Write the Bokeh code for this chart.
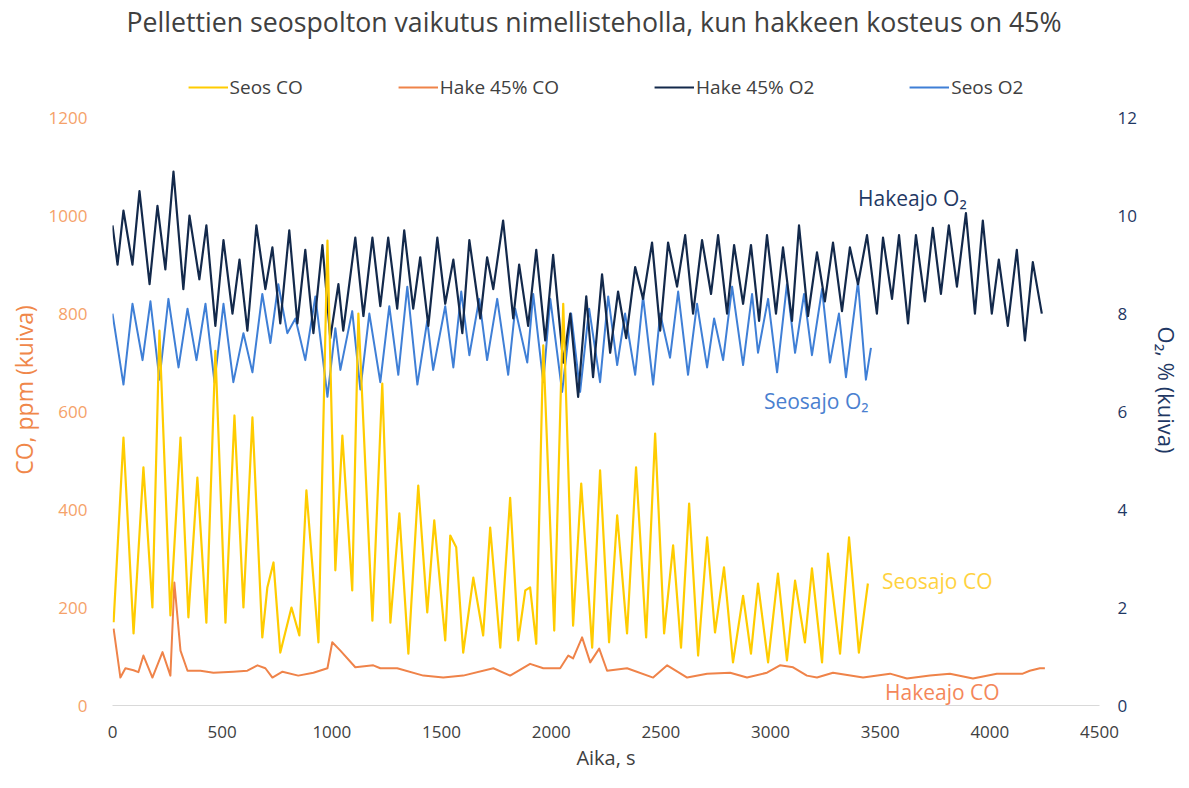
from bokeh.plotting import figure
from bokeh.models import Range1d, LinearAxis, FixedTicker, Legend, LegendItem, Label, Title
from bokeh.embed import file_html
from bokeh.resources import INLINE

FONT = "Open Sans"

# ---------------- data ----------------
hake_o2_t = [0, 23, 50, 91, 123, 169, 205, 241, 278, 323,
             351, 396, 428, 469, 506, 547, 579, 615, 656, 697,
             729, 765, 806, 843, 879, 916, 957, 993, 1030, 1052,
             1107, 1144, 1185, 1221, 1257, 1298, 1330, 1371, 1403, 1440,
             1481, 1517, 1554, 1595, 1627, 1677, 1708, 1736, 1781, 1827,
             1854, 1895, 1932, 1973, 2009, 2055, 2087, 2123, 2160, 2191,
             2232, 2269, 2305, 2342, 2383, 2419, 2460, 2497, 2533, 2574,
             2611, 2647, 2688, 2729, 2761, 2802, 2834, 2875, 2911, 2948,
             2984, 3025, 3057, 3098, 3130, 3171, 3212, 3248, 3285, 3326,
             3362, 3399, 3440, 3485, 3513, 3554, 3586, 3627, 3663, 3704,
             3740, 3777, 3813, 3850, 3891, 3932, 3968, 4009, 4041, 4082,
             4123, 4160, 4196, 4237]
hake_o2 = [9.8, 9.0, 10.1, 9.0, 10.5, 8.6, 10.2, 8.9, 10.9, 8.5,
           10.0, 8.7, 9.8, 7.75, 9.5, 8.0, 9.1, 7.65, 9.8, 8.5,
           9.35, 7.8, 9.7, 7.8, 9.3, 7.6, 9.4, 7.5, 8.6, 7.65,
           9.55, 7.95, 9.55, 8.15, 9.55, 8.1, 9.7, 8.1, 9.15, 7.75,
           9.55, 8.2, 9.1, 7.6, 9.5, 7.9, 9.15, 8.5, 9.9, 7.9,
           9.0, 7.75, 9.3, 7.45, 9.2, 7.0, 8.0, 6.3, 8.35, 6.7,
           8.8, 7.2, 8.45, 7.5, 8.95, 8.3, 9.45, 7.65, 9.45, 8.55,
           9.6, 8.0, 9.5, 8.4, 9.6, 8.0, 9.4, 8.2, 9.4, 7.85,
           9.6, 8.0, 9.35, 7.85, 9.8, 7.95, 9.25, 8.25, 9.45, 8.05,
           9.35, 8.6, 9.6, 8.0, 9.55, 8.3, 9.6, 7.8, 9.6, 8.25,
           9.75, 8.4, 9.8, 8.55, 10.05, 8.0, 9.9, 8.0, 9.1, 7.75,
           9.3, 7.45, 9.05, 8.0]

seos_o2_t = [0, 50, 91, 137, 173, 214, 255, 301, 342, 383,
             424, 465, 506, 551, 597, 638, 683, 720, 756, 797,
             834, 879, 925, 980, 1016, 1039, 1093, 1130, 1171, 1221,
             1262, 1303, 1344, 1390, 1435, 1462, 1517, 1554, 1590, 1627,
             1672, 1708, 1754, 1804, 1836, 1891, 1918, 1964, 1996, 2050,
             2091, 2132, 2173, 2223, 2260, 2301, 2337, 2383, 2419, 2465,
             2497, 2542, 2579, 2624, 2665, 2711, 2743, 2784, 2825, 2875,
             2916, 2943, 2989, 3030, 3075, 3112, 3153, 3189, 3235, 3271,
             3312, 3344, 3399, 3435, 3458]
seos_o2 = [8.0, 6.55, 8.2, 7.05, 8.25, 6.65, 8.3, 6.9, 8.1, 7.05,
           8.2, 6.6, 8.2, 6.6, 7.6, 6.8, 8.4, 7.4, 8.6, 7.6,
           7.9, 7.05, 8.35, 6.3, 7.7, 6.85, 8.05, 6.45, 8.0, 6.6,
           8.15, 6.75, 8.55, 6.55, 7.85, 6.85, 8.15, 6.9, 8.45, 7.15,
           8.3, 7.05, 8.3, 6.75, 8.1, 7.0, 8.4, 6.6, 8.3, 6.4,
           8.0, 6.4, 8.1, 6.6, 8.35, 6.95, 8.0, 6.75, 8.35, 6.55,
           8.0, 7.1, 8.45, 6.75, 8.2, 6.9, 7.9, 7.05, 8.55, 6.95,
           8.4, 7.2, 8.3, 6.8, 8.6, 7.2, 8.4, 7.15, 8.5, 7.0,
           8.0, 6.7, 8.65, 6.65, 7.3]

seos_co_t = [5, 50, 96, 141, 182, 214, 264, 310, 346, 387,
             428, 469, 515, 556, 597, 638, 683, 706, 734, 765,
             816, 852, 884, 939, 980, 1016, 1048, 1093, 1121, 1185,
             1230, 1267, 1308, 1349, 1394, 1435, 1467, 1517, 1540, 1567,
             1599, 1645, 1690, 1722, 1768, 1813, 1850, 1882, 1904, 1932,
             1964, 2014, 2055, 2100, 2137, 2187, 2223, 2264, 2301, 2346,
             2387, 2433, 2474, 2515, 2556, 2592, 2629, 2670, 2711, 2747,
             2788, 2829, 2875, 2911, 2943, 2989, 3034, 3075, 3112, 3157,
             3189, 3235, 3262, 3317, 3358, 3403, 3444]
seos_co = [170, 547, 147, 486, 200, 765, 184, 547, 180, 465,
           169, 724, 169, 592, 200, 588, 139, 241, 292, 108,
           200, 143, 439, 129, 949, 276, 551, 235, 800, 173,
           657, 169, 392, 106, 449, 190, 378, 133, 347, 323,
           108, 261, 143, 363, 118, 424, 133, 235, 241, 126,
           735, 153, 820, 163, 453, 118, 480, 129, 388, 147,
           486, 139, 555, 147, 327, 118, 412, 102, 343, 149,
           282, 88, 224, 106, 249, 88, 269, 92, 255, 129,
           280, 88, 310, 106, 343, 108, 249]

hake_co_t = [5, 36, 59, 96, 118, 141, 182, 228, 264, 282,
             310, 342, 401, 460, 551, 615, 661, 697, 729, 775,
             847, 916, 980, 1002, 1039, 1107, 1189, 1221, 1298, 1417,
             1508, 1599, 1736, 1813, 1904, 1964, 2041, 2078, 2100, 2141,
             2178, 2219, 2255, 2346, 2465, 2529, 2620, 2711, 2816, 2893,
             2984, 3043, 3103, 3166, 3212, 3285, 3422, 3545, 3622, 3727,
             3818, 3923, 4032, 4150, 4182, 4228, 4251]
hake_co = [157, 57, 76, 72, 68, 102, 57, 109, 61, 251,
           112, 71, 71, 67, 69, 71, 82, 76, 57, 69,
           61, 67, 76, 129, 112, 78, 82, 76, 76, 61,
           57, 61, 76, 61, 85, 76, 76, 102, 96, 139,
           88, 116, 71, 76, 57, 82, 57, 65, 67, 57,
           67, 82, 78, 61, 57, 67, 57, 65, 55, 61,
           65, 55, 65, 65, 71, 76, 76]

x_ticks = [0, 500, 1000, 1500, 2000, 2500, 3000, 3500, 4000, 4500]
co_ticks = [0, 200, 400, 600, 800, 1000, 1200]
o2_ticks = [0, 2, 4, 6, 8, 10, 12]

series_names = ["Seos CO", "Hake 45% CO", "Hake 45% O2", "Seos O2"]
title_text = "Pellettien seospolton vaikutus nimellisteholla, kun hakkeen kosteus on 45%"

# ---------------- colours ----------------
C_SEOS_CO = "#FFCC00"
C_HAKE_CO = "#EF8349"
C_HAKE_O2 = "#13294B"
C_SEOS_O2 = "#3F7FD6"
C_TEXT = "#404040"

# the frame extends above the 1200 / 12 tick to hold the legend row
CO_TOP = 1288
O2_TOP = CO_TOP / 100.0

p = figure(width=1185, height=786, title=None,
           x_range=Range1d(0, 4500), y_range=Range1d(0, CO_TOP),
           output_backend="svg", toolbar_location=None,
           min_border_left=112, min_border_right=86,
           min_border_top=74, min_border_bottom=81)
p.extra_y_ranges = {"o2": Range1d(0, O2_TOP)}
p.background_fill_color = "white"
p.border_fill_color = "white"
p.outline_line_color = None
p.xgrid.visible = False
p.ygrid.visible = False

# empty spacer row between the title and the legend, then the title itself
p.add_layout(Title(text="\u00a0", text_font=FONT, text_font_size="24.5px", standoff=0), "above")
p.add_layout(Title(text=title_text, align="left", offset=14,
                   text_font=FONT, text_font_size="26.7px", text_font_style="normal",
                   text_color=C_TEXT, standoff=0), "above")

# x axis
xa = p.xaxis[0]
xa.ticker = FixedTicker(ticks=x_ticks)
xa.major_tick_line_color = None
xa.minor_tick_line_color = None
xa.major_tick_out = 0
xa.major_tick_in = 0
xa.axis_line_color = "#d9d9d9"
xa.major_label_standoff = 20
xa.major_label_text_font = FONT
xa.major_label_text_font_size = "17px"
xa.major_label_text_color = C_TEXT
xa.axis_label = "Aika, s"
xa.axis_label_text_font = FONT
xa.axis_label_text_font_size = "20px"
xa.axis_label_text_font_style = "normal"
xa.axis_label_text_color = C_TEXT
xa.axis_label_standoff = 3

# left axis
ya = p.yaxis[0]
ya.ticker = FixedTicker(ticks=co_ticks)
ya.major_tick_line_color = None
ya.minor_tick_line_color = None
ya.major_tick_out = 0
ya.major_tick_in = 0
ya.axis_line_color = None
ya.major_label_standoff = 25
ya.major_label_text_font = FONT
ya.major_label_text_font_size = "17px"
ya.major_label_text_color = "#F5A26A"
ya.axis_label = "CO, ppm (kuiva)"
ya.axis_label_text_font = FONT
ya.axis_label_text_font_size = "23px"
ya.axis_label_text_font_style = "normal"
ya.axis_label_text_color = "#F0874A"
ya.axis_label_standoff = 6

# right axis
ra = LinearAxis(y_range_name="o2", ticker=FixedTicker(ticks=o2_ticks))
ra.major_tick_line_color = None
ra.minor_tick_line_color = None
ra.major_tick_out = 0
ra.major_tick_in = 0
ra.axis_line_color = None
ra.major_label_standoff = 18
ra.major_label_text_font = FONT
ra.major_label_text_font_size = "17px"
ra.major_label_text_color = "#1F3864"
ra.axis_label = "O\u2082, % (kuiva)"
ra.axis_label_text_font = FONT
ra.axis_label_text_font_size = "22px"
ra.axis_label_text_font_style = "normal"
ra.axis_label_text_color = "#1F3864"
ra.axis_label_standoff = 12
p.add_layout(ra, "right")

# lines
r_seos_o2 = p.line(seos_o2_t, seos_o2, y_range_name="o2", line_color=C_SEOS_O2,
                   line_width=2, line_join="round")
r_hake_o2 = p.line(hake_o2_t, hake_o2, y_range_name="o2", line_color=C_HAKE_O2,
                   line_width=2.2, line_join="round")
r_hake_co = p.line(hake_co_t, hake_co, line_color=C_HAKE_CO, line_width=2, line_join="round")
r_seos_co = p.line(seos_co_t, seos_co, line_color=C_SEOS_CO, line_width=2.2, line_join="round")

# tiny markers shown only in the legend (as in the original legend glyphs)
m_seos_co = p.scatter(x=[], y=[], marker="triangle", angle=3.14159, size=4, color="#C8A800")
m_hake_co = p.scatter(x=[], y=[], marker="circle", size=3, color=C_HAKE_CO)

legend = Legend(items=[
    LegendItem(label=series_names[0], renderers=[r_seos_co, m_seos_co]),
    LegendItem(label=series_names[1], renderers=[r_hake_co, m_hake_co]),
    LegendItem(label=series_names[2], renderers=[r_hake_o2]),
    LegendItem(label=series_names[3], renderers=[r_seos_o2]),
], orientation="horizontal", location="top_center", spacing=95,
    glyph_width=40, glyph_height=20, label_standoff=2,
    label_text_font=FONT, label_text_font_size="19px", label_text_color=C_TEXT,
    border_line_color=None, background_fill_alpha=0, margin=0, padding=3)
p.add_layout(legend)

# in-plot annotations
ann = [
    ("Hakeajo O\u2082", 3399, 1035, "#1F3864"),
    ("Seosajo O\u2082", 2970, 622, "#4A7FD0"),
    ("Seosajo CO", 3508, 255, "#FFD23F"),
    ("Hakeajo CO", 3522, 27, "#F4875A"),
]
for txt, ax_, ay_, col in ann:
    p.add_layout(Label(x=ax_, y=ay_, text=txt, text_font=FONT, text_font_size="21px",
                       text_color=col, text_baseline="middle", text_align="left"))

open("out.html", "w").write(file_html(p, INLINE))
